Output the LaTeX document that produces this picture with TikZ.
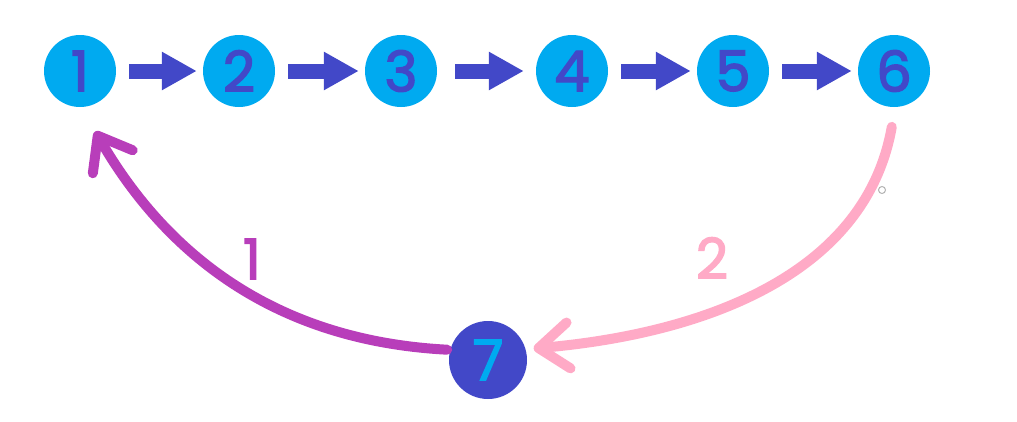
\documentclass[tikz,border=0pt]{standalone}
\usepackage{fontspec}
\setmainfont{Poppins}
\newfontfamily\digitfont{Poppins}[FakeBold=2.5]
\usetikzlibrary{arrows.meta}
\definecolor{ballblue}{RGB}{0,170,240}
\definecolor{inkblue}{RGB}{66,72,200}
\definecolor{arcpurple}{RGB}{184,62,186}
\definecolor{arcpink}{RGB}{255,170,198}

\begin{document}
\begin{tikzpicture}[x=1pt,y=1pt,
    every node/.style={font=\digitfont\fontsize{56}{56}\selectfont},
    ball/.style={circle, fill=ballblue, text=inkblue, minimum size=72pt, inner sep=0pt},
    blockarrow/.style={draw=inkblue, line width=15pt, shorten <=13pt, shorten >=6pt,
        -{Triangle[length=35pt,width=36pt]}},
    handarc/.style={line width=10pt, line cap=round,
        -{Straight Barb[length=30pt,width=46pt,round]}}]
    \useasboundingbox (0,0) rectangle (1017,-421);

    \node[ball] (p1) at (80,-71) {1};
    \node[ball] (p2) at (239,-71) {2};
    \node[ball] (p3) at (401,-71) {3};
    \node[ball] (p4) at (572,-71) {4};
    \node[ball] (p5) at (733,-71) {5};
    \node[ball] (p6) at (894,-71) {6};
    \node[ball, fill=inkblue, text=ballblue, minimum size=78pt] (p7) at (488,-360) {7};

    \draw[blockarrow] (p1) -- (p2);
    \draw[blockarrow] (p2) -- (p3);
    \draw[blockarrow, shorten <=18pt, shorten >=12pt] (p3) -- (p4);
    \draw[blockarrow] (p4) -- (p5);
    \draw[blockarrow] (p5) -- (p6);

    % the way back
    \draw[handarc, draw=arcpurple, shorten <=3pt, shorten >=28pt]
        (p7.165) to[out=177, in=-60] (p1.-88);
    \draw[handarc, draw=arcpink, shorten <=20pt, shorten >=8pt]
        (p6.-88) to[out=-100, in=5] (p7.16);

    \node[text=arcpurple] (l1) at (252,-259) {1};
    \node[text=arcpink] (l2) at (712,-258) {2};

    \draw[black!30, line width=1pt] (882,-190) circle (3.5pt);
\end{tikzpicture}
\end{document}
